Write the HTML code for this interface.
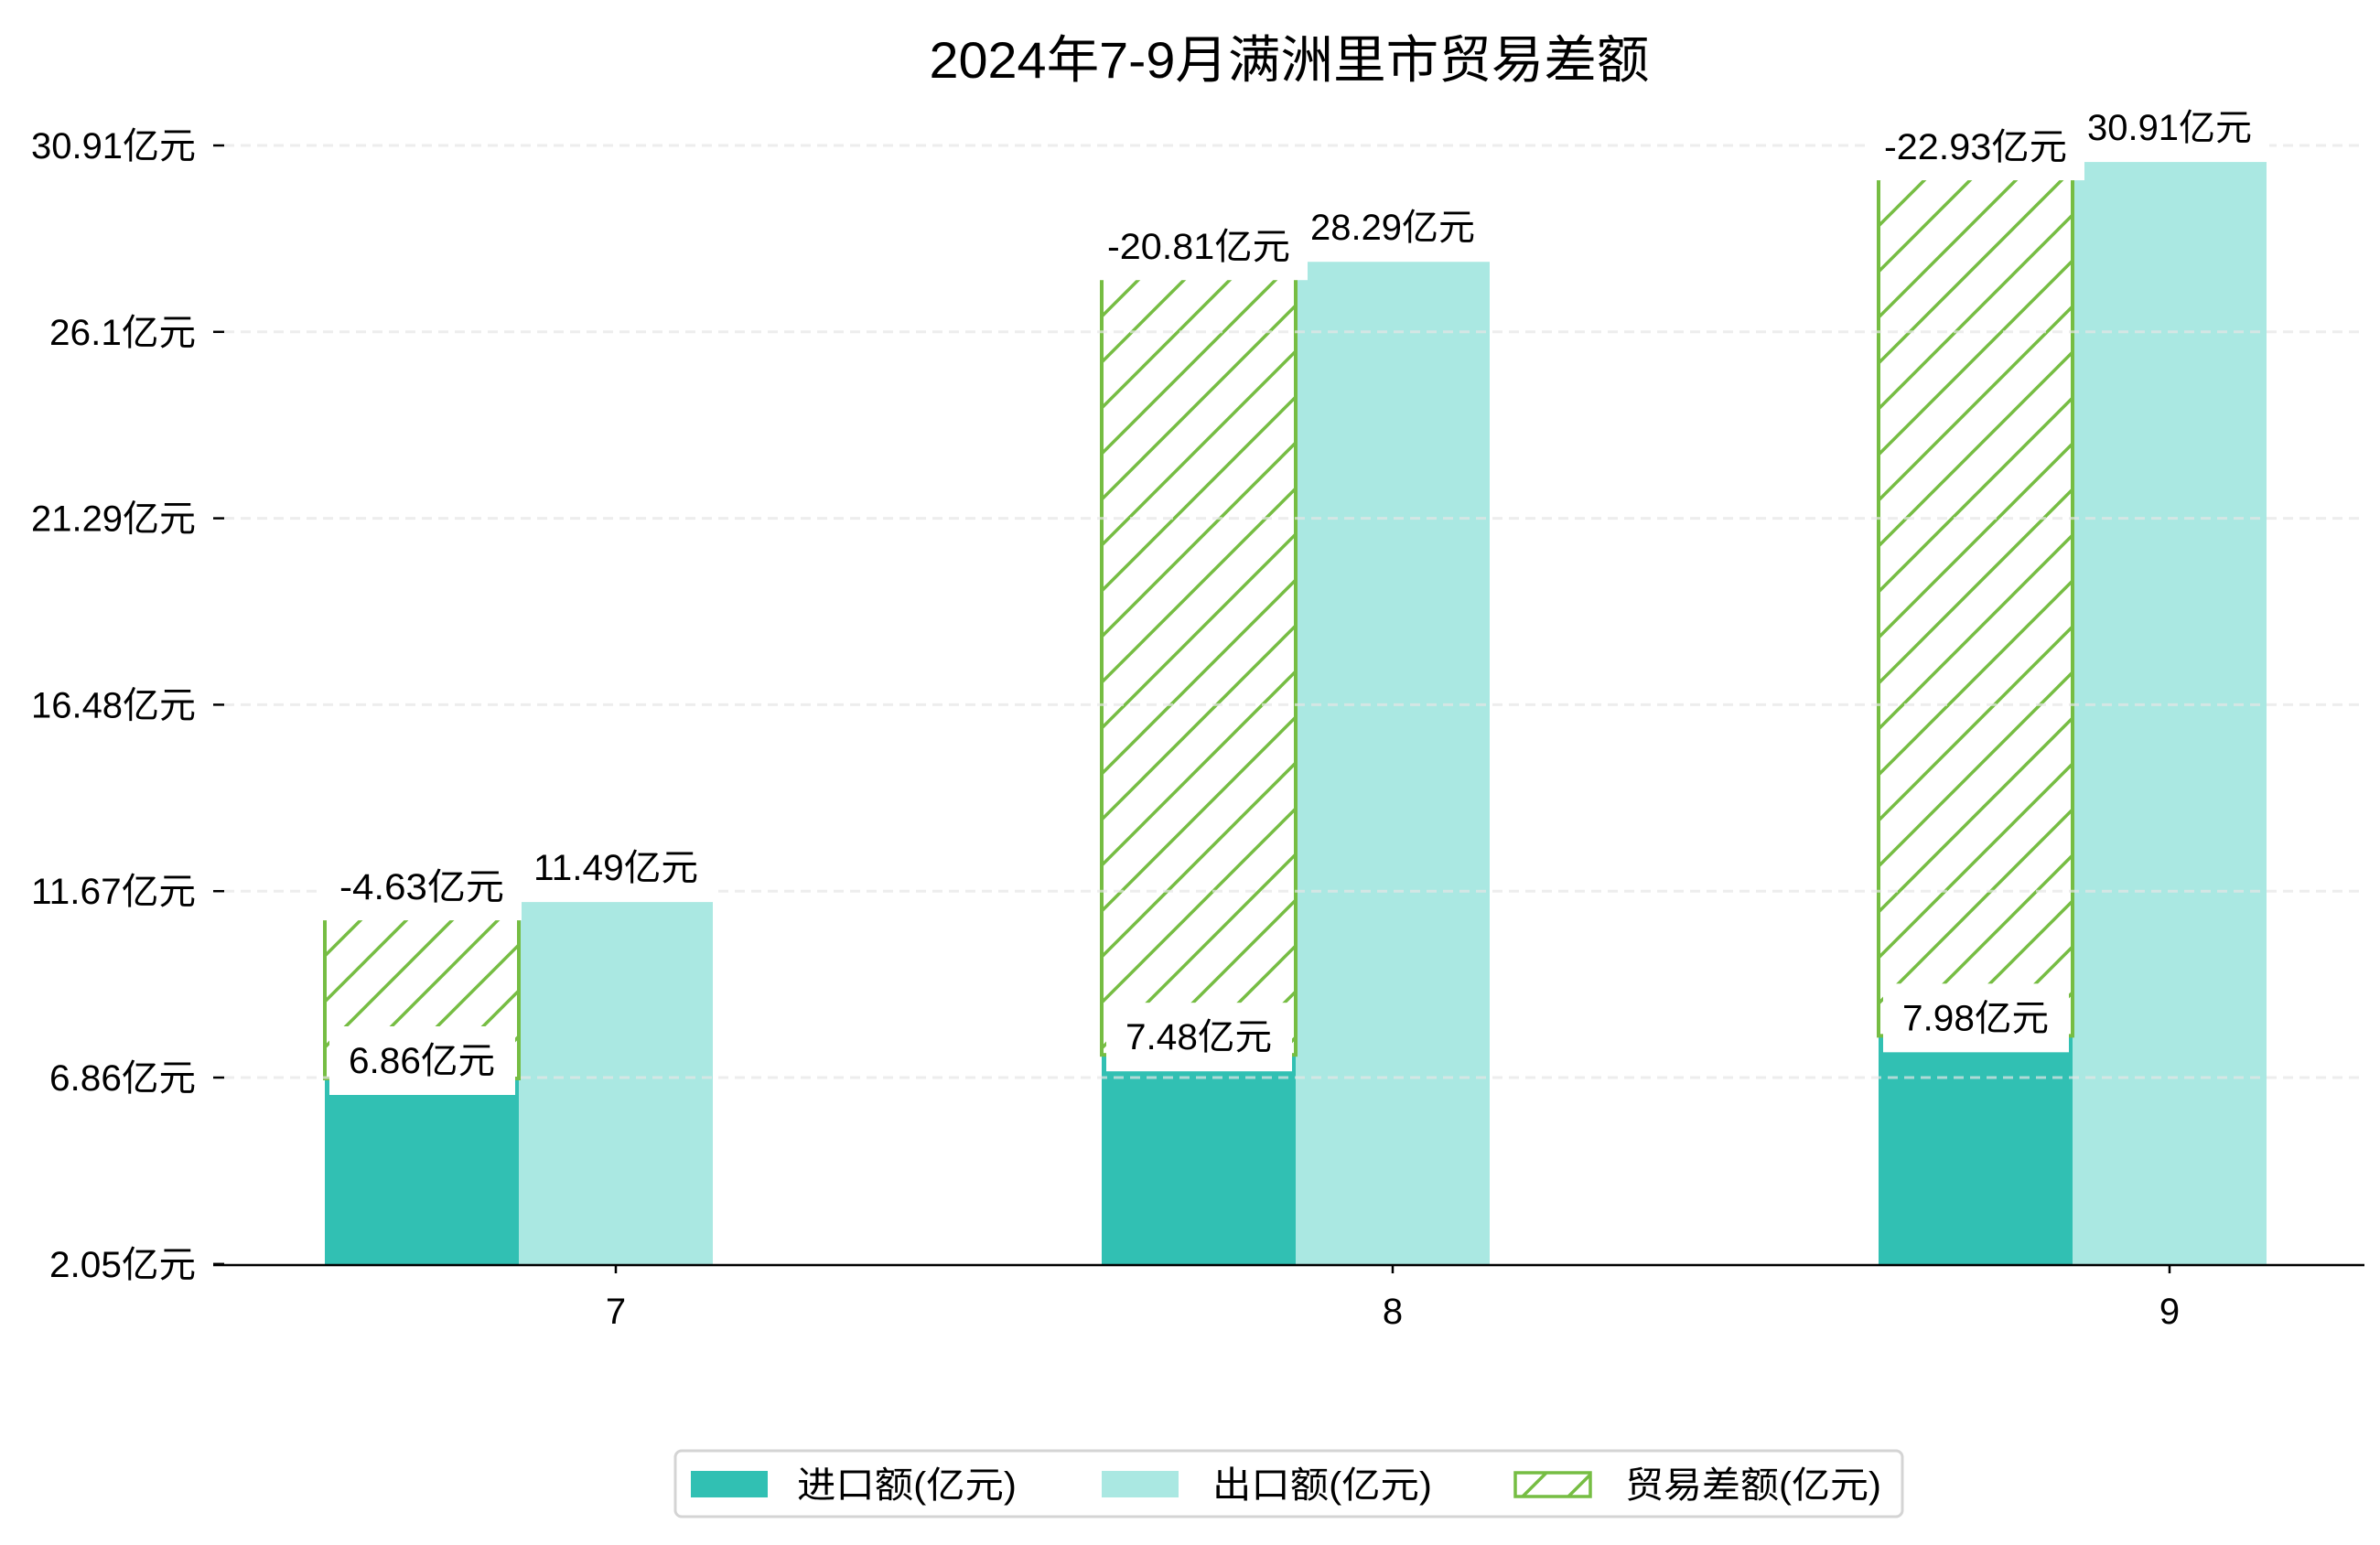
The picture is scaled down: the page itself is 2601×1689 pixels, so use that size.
<!DOCTYPE html>
<html><head><meta charset="utf-8"><style>
html,body{margin:0;padding:0;background:#fff;}
svg{display:block;font-family:"Liberation Sans","Noto Sans CJK SC",sans-serif;}
</style></head><body>
<svg id="chart" width="2601" height="1689" viewBox="0 0 2601 1689" xmlns="http://www.w3.org/2000/svg">
<defs>
<pattern id="hatch" patternUnits="userSpaceOnUse" width="50" height="50">
<line x1="0" y1="50" x2="50" y2="0" stroke="#76bd43" stroke-width="3.5"/>
<line x1="-10" y1="10" x2="10" y2="-10" stroke="#76bd43" stroke-width="3.5"/>
<line x1="40" y1="60" x2="60" y2="40" stroke="#76bd43" stroke-width="3.5"/>
</pattern>
</defs>
<text x="1409" y="85" text-anchor="middle" font-size="56" textLength="787" lengthAdjust="spacingAndGlyphs" fill="#000">2024年7-9月满洲里市贸易差额</text>
<g id="grid"></g>
<g id="bars"></g>
<g id="gridTop"></g>
<g id="labels"></g>
<g id="axes"></g>
<g>
<rect x="738" y="1586" width="1341" height="72" rx="7" fill="#fff" stroke="#d4d4d4" stroke-width="3"/>
<rect x="755" y="1608" width="84" height="29" fill="#31c0b3"/>
<text x="871" y="1637" font-size="40" textLength="240" lengthAdjust="spacingAndGlyphs">进口额(亿元)</text>
<rect x="1204" y="1608" width="84" height="29" fill="#aae8e2"/>
<text x="1325" y="1637" font-size="40" textLength="240" lengthAdjust="spacingAndGlyphs">出口额(亿元)</text>
<rect x="1656" y="1610" width="82" height="26" fill="url(#hatch)" stroke="#76bd43" stroke-width="3.5"/>
<text x="1776" y="1637" font-size="40" textLength="280" lengthAdjust="spacingAndGlyphs">贸易差额(亿元)</text>
</g>
</svg>
<script>
const months = ["7", "8", "9"];
const importVals = [6.86, 7.48, 7.98];
const exportVals = [11.49, 28.29, 30.91];
const balanceVals = [-4.63, -20.81, -22.93];
const tickLabels = ["2.05", "6.86", "11.67", "16.48", "21.29", "26.1", "30.91"];

const NS = "http://www.w3.org/2000/svg";
const X0 = 233, X1 = 2584, BASE = 1383;
function y(v) { return 1179 - (v - 6.86) * 41.66; }
function yTick(v) { return 1178 - (v - 6.86) * 42.37; }
function xCenter(i) { return 673 + i * 849; } // export bar center / tick
const BW = 212;
function mk(tag, attrs, parent) {
  const e = document.createElementNS(NS, tag);
  for (const k in attrs) e.setAttribute(k, attrs[k]);
  parent.appendChild(e);
  return e;
}
function txtLen(s) {
  let n = 0;
  for (const c of s) n += (c.charCodeAt(0) < 256) ? 20 : 40;
  return n;
}
const grid = document.getElementById("grid");
const gridTop = document.getElementById("gridTop");
const bars = document.getElementById("bars");
const labels = document.getElementById("labels");
const axes = document.getElementById("axes");

tickLabels.forEach((t, i) => {
  const yy = yTick(parseFloat(t));
  if (i > 0) {
    const g = mk("line", {x1: 245, x2: X1, y1: yy, y2: yy, stroke: "#e6e6e6", "stroke-opacity": "0.7", "stroke-width": 3, "stroke-dasharray": "11 7"}, gridTop);
    
    
  }
  const tk = mk("line", {x1: 233, x2: 245, y1: yy, y2: yy, stroke: "#000", "stroke-width": 2.5}, axes);
  
  
  const s = t + "亿元";
  const tl = mk("text", {x: 214, y: yy + 14, "text-anchor": "end", "font-size": 40, textLength: txtLen(s), lengthAdjust: "spacingAndGlyphs"}, axes);
  tl.textContent = s;
  
  
});

function labelBox(cx, baseline, s, name, withBox) {
  const w = txtLen(s);
  if (withBox) {
    const r = mk("rect", {x: cx - w / 2 - 19, y: baseline - 42, width: w + 38, height: 65, fill: "#fff"}, labels);
    
    
  }
  const t = mk("text", {x: cx, y: baseline, "text-anchor": "middle", "font-size": 40, textLength: w, lengthAdjust: "spacingAndGlyphs"}, labels);
  t.textContent = s;
  
  
}

months.forEach((m, i) => {
  const cx = xCenter(i);
  const ix = cx - 106 - BW;
  const ex = cx - 106;
  const yi = y(importVals[i]);
  const ye = y(exportVals[i]);
  const yb = y(importVals[i] + Math.abs(balanceVals[i]));
  const b1 = mk("rect", {x: ix, y: yi, width: BW, height: BASE - yi, fill: "#31c0b3"}, bars);
  
  
  const b2 = mk("rect", {x: ex, y: ye, width: BW, height: BASE - ye, fill: "#aae8e2"}, bars);
  
  
  const b3 = mk("rect", {x: ix, y: yb, width: BW, height: yi - yb, fill: "url(#hatch)", stroke: "#76bd43", "stroke-width": 4}, bars);
  
  

  labelBox(ix + BW / 2, yi - 6, importVals[i] + "亿元", 'import-value-label', false);
  const ir = labels.lastChild;
  const w = txtLen(importVals[i] + "亿元");
  const r = mk("rect", {x: ix + 5, y: yi - 57, width: BW - 9, height: 75, fill: "#fff"}, labels);
  
  
  labels.appendChild(ir);
  labelBox(ex + BW / 2, ye - 24, exportVals[i] + "亿元", 'export-value-label', true);
  labelBox(ix + BW / 2, yb - 3 + 23 - 23 + 0, balanceVals[i] + "亿元", 'balance-value-label', true);
  // adjust balance label baseline (box bottom ~ yb+20)
  const bl = labels.lastChild, bb = labels.children[labels.children.length - 2];
  bl.setAttribute('y', yb - 3);
  bb.setAttribute('y', yb - 45);

  const xt = mk("line", {x1: cx, x2: cx, y1: BASE, y2: BASE + 9, stroke: "#000", "stroke-width": 2.5}, axes);
  
  
  const xl = mk("text", {x: cx, y: 1447, "text-anchor": "middle", "font-size": 40}, axes);
  xl.textContent = m;
  
  
});
const ax = mk("line", {x1: X0, x2: X1, y1: BASE, y2: BASE, stroke: "#000", "stroke-width": 2.5}, axes);


</script>
</body></html>
